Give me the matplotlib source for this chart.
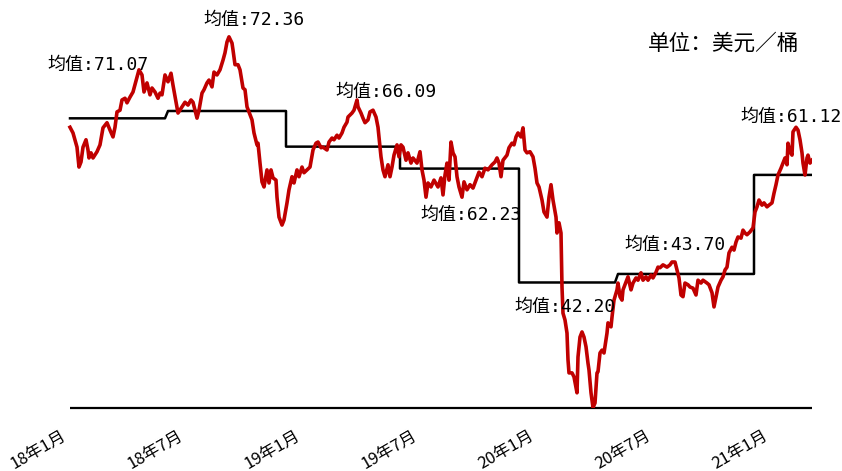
import matplotlib
matplotlib.use("Agg")
import matplotlib.pyplot as plt

# ---------------- data ----------------
# trading-day position (index along the category axis) and Brent price, USD/bbl
day = [0, 3, 7, 9, 11, 13, 16, 18, 19, 21, 23, 27, 30, 33, 37, 40, 43, 45, 47, 50,
       52, 55, 57, 60, 63, 67, 69, 72, 74, 77, 80, 82, 85, 88, 90, 92, 95, 98, 101, 103,
       106, 108, 112, 115, 118, 121, 123, 125, 127, 129, 132, 134, 137, 139, 142, 144, 147, 150, 153, 155,
       157, 159, 162, 163, 165, 168, 170, 173, 175, 177, 179, 182, 184, 187, 188, 190, 192, 194, 197, 199,
       201, 203, 206, 207, 209, 212, 214, 217, 219, 222, 224, 227, 229, 232, 234, 237, 240, 243, 246, 248,
       251, 253, 257, 259, 262, 264, 267, 269, 272, 274, 277, 278, 282, 284, 287, 288, 291, 293, 295, 298,
       300, 303, 306, 308, 309, 311, 313, 315, 318, 320, 322, 324, 327, 329, 331, 333, 336, 338, 341, 343,
       347, 350, 352, 354, 356, 358, 361, 364, 368, 371, 373, 375, 377, 379, 381, 383, 385, 387, 389, 392,
       394, 397, 400, 403, 406, 409, 412, 415, 418, 422, 425, 427, 429, 431, 433, 437, 439, 442, 444, 446,
       448, 451, 453, 455, 457, 460, 463, 465, 467, 469, 472, 474, 477, 479, 481, 483, 486, 487, 489, 491,
       492, 493, 495, 497, 498, 499, 502, 504, 507, 508, 510, 512, 514, 516, 518, 519, 521, 523, 525, 527,
       528, 530, 532, 534, 537, 538, 541, 542, 544, 547, 548, 550, 552, 553, 556, 558, 561, 563, 566, 568,
       571, 573, 576, 578, 581, 583, 586, 588, 590, 593, 597, 600, 602, 605, 607, 609, 611, 613, 615, 618,
       620, 623, 626, 628, 631, 633, 637, 639, 642, 644, 646, 648, 651, 653, 655, 657, 659, 662, 664, 666,
       668, 671, 673, 675, 677, 680, 683, 685, 687, 689, 692, 694, 697, 699, 702, 704, 706, 708, 711, 713,
       715, 717, 718, 720, 722, 723, 726, 728, 730, 732, 733, 735, 737, 738, 740, 742]
price = [69.5, 68.5, 66.0, 62.5, 63.4, 66.0, 67.3, 65.5, 64.1, 65.0, 64.1, 65.2, 66.4, 69.4, 70.3, 69.0, 67.8, 69.5, 72.2, 72.5,
         74.3, 74.6, 73.8, 74.8, 75.7, 78.3, 79.6, 78.7, 75.7, 77.3, 75.2, 76.4, 75.7, 74.6, 75.5, 75.2, 78.7, 77.5, 79.0, 76.9,
         73.9, 72.0, 73.1, 73.9, 73.4, 74.3, 73.9, 72.5, 71.1, 72.5, 75.5, 76.1, 77.3, 77.8, 76.6, 79.2, 78.7, 79.6, 81.3, 82.6,
         84.5, 85.4, 84.3, 83.1, 80.5, 80.5, 79.6, 76.4, 76.1, 73.1, 72.2, 70.8, 68.5, 66.4, 66.7, 63.2, 59.9, 59.0, 62.0, 59.7,
         62.0, 60.6, 60.2, 57.2, 53.7, 52.3, 53.2, 56.2, 58.5, 60.8, 59.7, 62.0, 60.8, 62.5, 61.5, 62.0, 62.5, 65.5, 66.7, 66.9,
         65.9, 66.0, 65.5, 66.9, 67.6, 67.3, 68.1, 67.6, 68.5, 69.5, 70.4, 71.3, 72.0, 72.5, 74.3, 73.1, 72.0, 71.1, 70.3, 70.8,
         72.2, 72.5, 71.3, 69.5, 67.8, 64.3, 62.0, 60.8, 62.9, 60.8, 62.5, 64.6, 66.4, 64.3, 66.4, 66.0, 63.7, 65.0, 63.2, 64.1,
         63.2, 65.2, 62.0, 60.2, 57.2, 59.7, 59.0, 60.2, 59.0, 60.6, 57.6, 61.1, 63.2, 60.2, 66.9, 65.0, 64.3, 60.8, 59.0, 57.2,
         59.9, 58.5, 59.4, 58.8, 60.2, 61.6, 60.8, 62.3, 62.0, 62.9, 63.4, 64.1, 63.2, 60.8, 63.7, 64.6, 65.9, 66.7, 66.4, 67.8,
         68.5, 67.8, 69.4, 65.5, 65.0, 65.2, 64.3, 62.3, 59.7, 59.0, 56.7, 54.6, 53.7, 57.2, 59.4, 56.7, 53.7, 50.9, 52.7, 50.9,
         41.4, 36.8, 35.6, 33.3, 28.6, 26.3, 26.3, 25.6, 22.8, 29.1, 32.6, 33.5, 32.6, 30.9, 28.0, 26.8, 22.8, 20.2, 21.0, 26.3,
         26.5, 29.8, 30.3, 29.8, 33.3, 35.1, 34.4, 36.1, 39.1, 40.9, 42.1, 39.7, 39.1, 40.9, 42.3, 43.2, 40.9, 42.1, 43.0, 42.6,
         43.9, 42.6, 43.2, 42.6, 43.5, 43.0, 44.0, 44.9, 44.8, 45.3, 44.9, 45.3, 45.8, 45.8, 44.4, 43.0, 40.0, 39.7, 42.1, 41.8,
         41.4, 41.2, 40.0, 42.6, 42.1, 42.6, 42.1, 41.8, 40.4, 37.9, 39.7, 41.4, 42.6, 43.2, 44.4, 44.9, 47.4, 48.4, 47.9, 49.3,
         50.2, 50.0, 51.4, 50.9, 50.6, 51.1, 51.8, 54.6, 55.5, 56.7, 55.8, 56.2, 55.5, 55.8, 56.2, 57.9, 59.4, 61.1, 62.3, 63.2,
         64.1, 62.9, 66.7, 65.2, 64.6, 68.7, 69.5, 69.0, 67.3, 65.0, 63.2, 61.1, 64.1, 64.6, 63.2, 63.7]

# period means (half-years, last one 2021 Q1)
seg_start = [0, 98, 216, 330, 449, 548, 684]
seg_end = [95, 216, 330, 449, 545, 684, 742]
seg_mean = [71.07, 72.36, 66.09, 62.23, 42.20, 43.70, 61.12]

tick_pos = [-5.5, 111.5, 228.5, 345.5, 462.5, 579.5, 696.5]
tick_labels = ["18年1月", "18年7月", "19年1月", "19年7月", "20年1月", "20年7月", "21年1月"]
unit_label = "单位：美元／桶"

# ---------------- layout ----------------
label_xy = [(-23, 80.45), (133, 88.4), (265, 75.70), (350, 54.07),
            (444, 37.89), (554, 48.79), (670, 71.30)]

fig = plt.figure(figsize=(8.42, 4.71), dpi=100)
ax = fig.add_axes([60 / 842, 63 / 471, 752 / 842, 408 / 471])
ax.set_xlim(-10, 742)
ax.set_ylim(20.125, 91.88)

step_x, step_y = [], []
for s, e, m in zip(seg_start, seg_end, seg_mean):
    step_x += [s, e]
    step_y += [m, m]
ax.plot(step_x, step_y, color="black", lw=1.8, zorder=2)
ax.plot(day, price, color="#C00000", lw=2.6, solid_joinstyle="round", zorder=3)
ax.hlines(ax.get_ylim()[0], day[0], day[-1], color="black", lw=1.6, clip_on=False, zorder=1)

for (x, y), m in zip(label_xy, seg_mean):
    ax.text(x, y, f"均值:{m:.2f}", ha="left", va="center", fontsize=13,
            family=["DejaVu Sans Mono", "Noto Sans CJK SC"], color="black")

ax.set_xticks(tick_pos)
ax.set_xticklabels(tick_labels, rotation=30, ha="right", va="center",
                   rotation_mode="anchor", fontsize=12, family="Noto Sans CJK SC")
ax.tick_params(axis="x", length=0, pad=19)
ax.set_yticks([])
for sp in ax.spines.values():
    sp.set_visible(False)

fig.text(648 / 842, 1 - 44 / 471, unit_label, ha="left", va="center",
         fontsize=15.6, family="Noto Sans CJK SC", color="black")

fig.savefig("out.png", dpi=100)
